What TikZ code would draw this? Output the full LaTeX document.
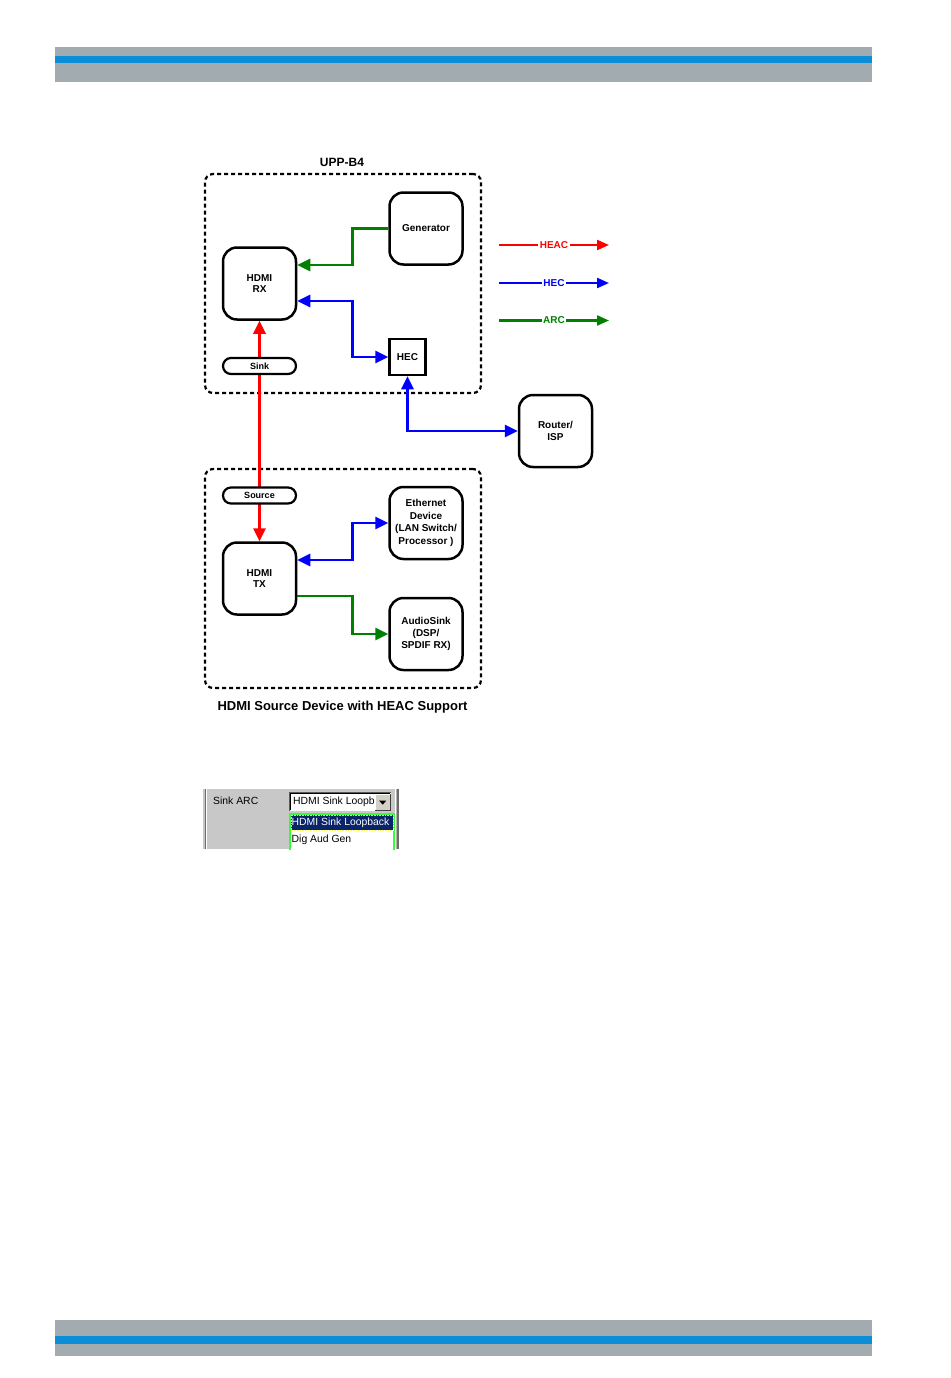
\documentclass[tikz,border=0pt]{standalone}
\usepackage{fontspec}
\setmainfont{Liberation Sans}
\usetikzlibrary{arrows.meta}
\definecolor{bargray}{HTML}{A2ABB0}
\definecolor{barblue}{HTML}{0A8ED8}
\definecolor{arcgreen}{HTML}{008000}
\definecolor{panelgray}{HTML}{C8C8C8}
\definecolor{selnavy}{HTML}{0A246A}
\definecolor{listgreen}{HTML}{33FF33}
\definecolor{btngray}{HTML}{D4D0C8}
\begin{document}
\begin{tikzpicture}[x=1pt,y=-1pt,
  blk/.style={draw=black, line width=2.5pt, rounded corners=14pt, minimum width=73pt, minimum height=72pt,
    align=center, inner sep=0pt, fill=white, font=\fontsize{10}{11.5}\selectfont\bfseries},
  sqbox/.style={draw=black, line width=2.5pt, minimum width=36pt, minimum height=36pt, inner sep=0pt,
    fill=white, font=\fontsize{10}{11}\selectfont\bfseries},
  pill/.style={draw=black, line width=2.2pt, rounded corners=8pt, minimum width=73pt, minimum height=16pt,
    inner sep=0pt, fill=white, font=\fontsize{9}{10}\selectfont\bfseries},
  container/.style={draw=black, line width=2.2pt, dash pattern=on 4pt off 3pt, rounded corners=8pt,
    minimum width=276pt, minimum height=219pt, inner sep=0pt},
  heac/.style={red, line width=2.6pt},
  hec/.style={blue, line width=2.6pt},
  arc/.style={arcgreen, line width=2.6pt},
  tip/.tip={Triangle[length=13pt, width=12pt]},
  legtip/.tip={Triangle[length=12pt, width=10pt]},
  legtxt/.style={fill=white, inner sep=1.5pt, font=\fontsize{10}{10}\selectfont\bfseries},
  uitxt/.style={inner sep=0pt, font=\fontsize{10.4}{12}\selectfont, anchor=west}
]
\useasboundingbox (0,0) rectangle (950,1378);
% header and footer bars
\fill[bargray] (55,47) rectangle (872,82);
\fill[barblue] (55,56) rectangle (872,63);
\fill[bargray] (55,1320) rectangle (872,1356);
\fill[barblue] (55,1336) rectangle (872,1344);

% containers
\node[container] (upp) at (343,283.5) {};
\node[font=\fontsize{12}{13}\selectfont\bfseries] (upplbl) at (342,162) {UPP-B4};
\node[container] (src) at (343,578.5) {};
\node[font=\fontsize{13}{14}\selectfont\bfseries] (srclbl) at (342.5,707.5) {HDMI Source Device with HEAC Support};

% blocks
\node[blk] (gen) at (426,228.5) {Generator};
\node[blk] (rx) at (259.5,283.5) {HDMI\\RX};
\node[sqbox] (hec) at (407.5,357) {HEC};
\node[blk] (router) at (555.5,431) {Router/\\ISP};
\node[blk] (tx) at (259.5,578.5) {HDMI\\TX};
\node[blk, font=\fontsize{10}{12.7}\selectfont\bfseries] (eth) at (426,523) {Ethernet\\Device\\(LAN Switch/\\Processor )};
\node[blk, font=\fontsize{10}{12}\selectfont\bfseries] (aud) at (426,634) {AudioSink\\(DSP/\\SPDIF RX)};

% connectors
\draw[heac, tip-tip] (rx.south) -- (tx.north);
\draw[arc, -tip] (gen.west) -- ++(-36,0) |- ([yshift=18.5pt]rx.east);
\draw[hec, tip-tip] ([yshift=-17.5pt]rx.east) -- ++(55,0) |- (hec.west);
\draw[hec, tip-tip] (hec.south) |- (router.west);
\draw[hec, tip-tip] ([yshift=18.5pt]tx.east) -- ++(55,0) |- (eth.west);
\draw[arc, -tip] ([yshift=-17.5pt]tx.east) -- ++(55,0) |- (aud.west);

% pills over the red line
\node[pill] (sink) at (259.5,366) {Sink};
\node[pill] (source) at (259.5,495.5) {Source};

% legend
\coordinate (la1) at (499,245); \coordinate (la2) at (609,245);
\coordinate (lb1) at (499,283); \coordinate (lb2) at (609,283);
\coordinate (lc1) at (499,320.5); \coordinate (lc2) at (609,320.5);
\draw[red, line width=2.2pt, -legtip] (la1) -- node[legtxt, text=red] (lgA) {HEAC} (la2);
\draw[blue, line width=2.2pt, -legtip] (lb1) -- node[legtxt, text=blue] (lgB) {HEC} (lb2);
\draw[arcgreen, line width=2.2pt, -legtip] (lc1) -- node[legtxt, text=arcgreen] (lgC) {ARC} (lc2);

% UI widget
\fill[panelgray] (207,789) rectangle (395,849);
\fill[gray!45] (203,789) rectangle (204.6,849);
\fill[gray!85!black] (204.6,789) rectangle (206.4,849);
\fill[white] (206.4,789) rectangle (207.4,849);
\fill[white] (395,789) rectangle (396,849);
\fill[gray!60] (396,789) rectangle (397,849);
\fill[gray!85!black] (397,789) rectangle (399,849);
\node[uitxt] (sinkarc) at (213,801) {Sink ARC};
% combo box
\node[fill=white, minimum width=102pt, minimum height=19pt, inner sep=0pt, anchor=north west] (combo) at (289,792) {};
\draw[gray!70!black, line width=1pt] (combo.south west) -- (combo.north west) -- (combo.north east);
\draw[black, line width=1pt] ([shift={(1,-1)}]combo.south west) -- ([shift={(1,1)}]combo.north west) -- ([shift={(-1,1)}]combo.north east);
\begin{scope}
\clip (291,793) rectangle (374.5,810);
\node[uitxt] (combotxt) at (293,802) {HDMI Sink Loopback};
\end{scope}
\node[fill=btngray, minimum width=15pt, minimum height=16pt, inner sep=0pt, anchor=north west] (btn) at (375,794) {};
\draw[white, line width=0.8pt] (btn.south west) -- (btn.north west) -- (btn.north east);
\draw[gray!50!black, line width=0.8pt] (btn.north east) -- (btn.south east) -- (btn.south west);
\fill[black] ([shift={(-3.5,-1.5)}]btn.center) -- ([shift={(3.5,-1.5)}]btn.center) -- ([shift={(0,2.5)}]btn.center) -- cycle;
% drop-down list
\fill[white] (289,813) rectangle (395,849);
\draw[listgreen, line width=1.6pt] (289.8,849.5) -- (289.8,813.8) -- (394.2,813.8) -- (394.2,849.5);
\fill[selnavy] (290.6,814.6) rectangle (393.4,830.4);
\draw[yellow!60!white, line width=0.6pt, dash pattern=on 0.8pt off 0.8pt] (291,815) rectangle (393,830);
\node[uitxt, text=white] (item1) at (291.5,822.5) {HDMI Sink Loopback};
\node[uitxt] (item2) at (291.5,839.5) {Dig Aud Gen};
\end{tikzpicture}
\end{document}
